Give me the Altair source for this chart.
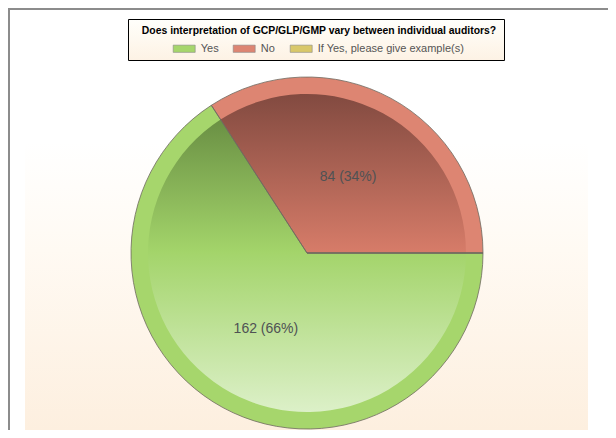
import math
import altair as alt
import pandas as pd

# ---- data ----
answers = ["Yes", "No", "If Yes, please give example(s)"]
counts = [162, 84, 0]
order_idx = [0, 1, 2]
colors = ["#a6d66c", "#dd8572", "#d9c86a"]
title_text = "Does interpretation of GCP/GLP/GMP vary between individual auditors?"

df = pd.DataFrame({"answer": answers, "count": counts, "idx": order_idx})
one = pd.DataFrame({"k": [0]})

W, H = 600, 422
CX, CY = 299, 245
R_OUT, R_IN = 176, 159

theta_enc = alt.Theta("count:Q", stack=True,
                      scale=alt.Scale(range=[math.pi / 2, math.pi / 2 + 2 * math.pi]))
order_enc = alt.Order("idx:Q", sort="ascending")

base = alt.Chart(df)

# background gradient panel
bg = alt.Chart(one).mark_rect(
    fill=alt.LinearGradient(gradient="linear", x1=0, y1=0, x2=0, y2=1,
                            stops=[alt.GradientStop(offset=0, color="#ffffff"),
                                   alt.GradientStop(offset=0.2, color="#ffffff"),
                                   alt.GradientStop(offset=0.5, color="#fffaf3"),
                                   alt.GradientStop(offset=1, color="#fdefdf")])
).encode(x=alt.value(17), x2=alt.value(580), y=alt.value(62), y2=alt.value(H))

border_top = alt.Chart(one).mark_rule(color="#8c8c8c", strokeWidth=2).encode(
    x=alt.value(0), x2=alt.value(W), y=alt.value(1))
border_left = alt.Chart(one).mark_rule(color="#8c8c8c", strokeWidth=2).encode(
    x=alt.value(1), y=alt.value(0), y2=alt.value(H))

legend_box = alt.Chart(one).mark_rect(
    fill=alt.LinearGradient(gradient="linear", x1=0, y1=0, x2=0, y2=1,
                            stops=[alt.GradientStop(offset=0, color="#fffffb"),
                                   alt.GradientStop(offset=1, color="#fdf2e4")]),
    stroke="#000000", strokeWidth=1
).encode(x=alt.value(120.5), x2=alt.value(496.5), y=alt.value(11.5), y2=alt.value(52.5))

title = alt.Chart(one).mark_text(
    text=title_text, font="Arial", fontSize=10.4, fontWeight="bold",
    color="#000000", align="center", baseline="middle"
).encode(x=alt.value(311), y=alt.value(23))

outer = base.mark_arc(radius=R_OUT).encode(
    theta=theta_enc, order=order_enc,
    x=alt.value(CX), y=alt.value(CY),
    color=alt.Color("answer:N", sort=answers,
                    scale=alt.Scale(domain=answers, range=colors),
                    legend=alt.Legend(
                        title=None, orient="none", legendX=164.7, legendY=29,
                        direction="horizontal",
                        symbolType="M-1,-0.33L1,-0.33L1,0.33L-1,0.33Z",
                        symbolSize=484, symbolStrokeColor="#8a8a8a",
                        symbolStrokeWidth=0.6, symbolOpacity=1,
                        labelFont="Arial", labelFontSize=11, labelColor="#555555",
                        labelOffset=5, columnPadding=13)),
)

green_grad = alt.LinearGradient(gradient="linear", x1=0, y1=0, x2=0, y2=1,
                                stops=[alt.GradientStop(offset=0, color="#6a9044"),
                                       alt.GradientStop(offset=0.45, color="#a3d46a"),
                                       alt.GradientStop(offset=1, color="#dcf0c8")])
red_grad = alt.LinearGradient(gradient="linear", x1=0, y1=0, x2=0, y2=1,
                              stops=[alt.GradientStop(offset=0, color="#824a40"),
                                     alt.GradientStop(offset=1, color="#d77c69")])

inner_green = base.mark_arc(radius=R_IN, fill=green_grad).encode(
    theta=theta_enc, order=order_enc, detail="answer:N",
    x=alt.value(CX), y=alt.value(CY),
    opacity=alt.when(alt.datum.answer == "Yes").then(alt.value(1)).otherwise(alt.value(0)),
)
inner_red = base.mark_arc(radius=R_IN, fill=red_grad).encode(
    theta=theta_enc, order=order_enc, detail="answer:N",
    x=alt.value(CX), y=alt.value(CY),
    opacity=alt.when(alt.datum.answer == "No").then(alt.value(1)).otherwise(alt.value(0)),
)

outline = base.mark_arc(radius=R_OUT, fill="#ffffff", fillOpacity=0,
                        stroke="#6e6a60", strokeWidth=0.8).encode(
    theta=theta_enc, order=order_enc, detail="answer:N",
    x=alt.value(CX), y=alt.value(CY),
)

labels = base.mark_text(radius=86, font="Arial", fontSize=14, color="#4f5254",
                        align="center", baseline="middle").transform_joinaggregate(
    total="sum(count)"
).transform_calculate(
    label="datum.count + ' (' + format(datum.count / datum.total, '.0%') + ')'"
).encode(
    theta=theta_enc, order=order_enc, detail="answer:N",
    x=alt.value(CX), y=alt.value(CY),
    text="label:N",
    opacity=alt.when(alt.datum.count > 0).then(alt.value(1)).otherwise(alt.value(0)),
)

chart = alt.layer(
    bg, border_top, border_left, legend_box, title,
    outer, inner_green, inner_red, outline, labels
).properties(
    width=W, height=H, autosize="none", padding=0, background="#ffffff"
).configure_view(stroke=None)

chart.save("out.html", embed_options={"renderer": "svg", "actions": False})
